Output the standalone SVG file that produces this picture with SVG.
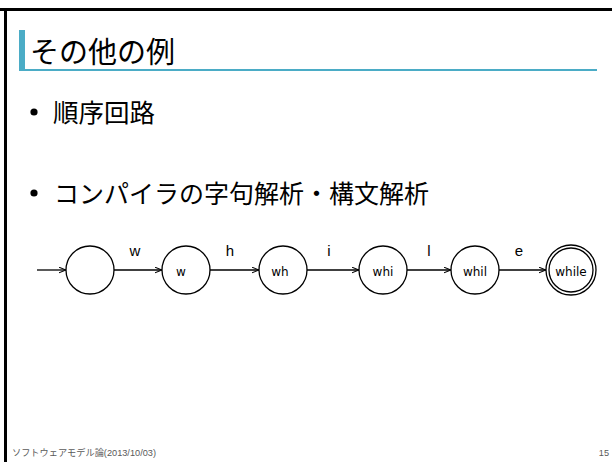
<svg xmlns="http://www.w3.org/2000/svg" width="612" height="462" viewBox="0 0 612 462">
<style>
.jp{font-family:"Liberation Sans","Noto Sans CJK JP",sans-serif;fill:#000}
.st circle{fill:#fff;stroke:#000;stroke-width:1.3}
.nl{font-family:"DejaVu Sans","Liberation Sans",sans-serif;font-size:12px;text-anchor:middle;fill:#000}
.el{font-family:"Liberation Sans",sans-serif;font-size:15px;text-anchor:middle;fill:#000}
.edge{stroke:#000;stroke-width:1.3;fill:none;marker-end:url(#ah)}
.foot{font-family:"Liberation Sans","Noto Sans CJK JP",sans-serif;font-size:9.2px;fill:#595959}
</style>
<defs>
<marker id="ah" viewBox="0 0 10 10" refX="10" refY="5" markerWidth="7" markerHeight="7" orient="auto" markerUnits="userSpaceOnUse">
<path d="M0,1 L10,5 L0,9" fill="none" stroke="#000" stroke-width="1.5"/>
</marker>
</defs>
<rect width="612" height="462" fill="#fff"/>
<line x1="0" y1="9.5" x2="612" y2="9.5" stroke="#000" stroke-width="3"/>
<line x1="5.5" y1="9" x2="5.5" y2="462" stroke="#000" stroke-width="3"/>
<rect x="19" y="30" width="6" height="41" fill="#4bacc6"/>
<rect x="19" y="69" width="578" height="2" fill="#4bacc6"/>
<text class="jp" x="30" y="63" font-size="29">その他の例</text>
<circle cx="34" cy="112" r="3.6" fill="#000"/>
<text class="jp" x="53" y="122" font-size="25.5">順序回路</text>
<circle cx="34" cy="193" r="3.6" fill="#000"/>
<text class="jp" x="54" y="203" font-size="25">コンパイラの字句解析・構文解析</text>
<g id="connectors">
<line class="edge" x1="37" y1="270" x2="66" y2="270"/>
<line class="edge" x1="114" y1="270" x2="162" y2="270"/>
<line class="edge" x1="210" y1="270" x2="259" y2="270"/>
<line class="edge" x1="307" y1="270" x2="359" y2="270"/>
<line class="edge" x1="407" y1="270" x2="451" y2="270"/>
<line class="edge" x1="499" y1="270" x2="546" y2="270"/>
<text class="el" x="135" y="256">w</text>
<text class="el" x="230" y="256">h</text>
<text class="el" x="329" y="256">i</text>
<text class="el" x="429" y="256">l</text>
<text class="el" x="519" y="256">e</text>
</g>
<g id="s0" class="st"><circle cx="90" cy="270" r="24"/></g>
<g id="s1" class="st"><circle cx="186" cy="270" r="24"/><text class="nl" x="181" y="276">w</text></g>
<g id="s2" class="st"><circle cx="283" cy="270" r="24"/><text class="nl" x="280" y="276">wh</text></g>
<g id="s3" class="st"><circle cx="383" cy="270" r="24"/><text class="nl" x="383" y="276">whi</text></g>
<g id="s4" class="st"><circle cx="475" cy="270" r="24"/><text class="nl" x="475" y="276">whil</text></g>
<g id="s5" class="st"><circle cx="571" cy="270" r="25"/><circle cx="571" cy="270" r="22"/><text class="nl" x="571" y="276">while</text></g>
<text class="foot" x="12" y="456">ソフトウェアモデル論(2013/10/03)</text>
<text class="foot" x="609" y="456" text-anchor="end">15</text>
</svg>
